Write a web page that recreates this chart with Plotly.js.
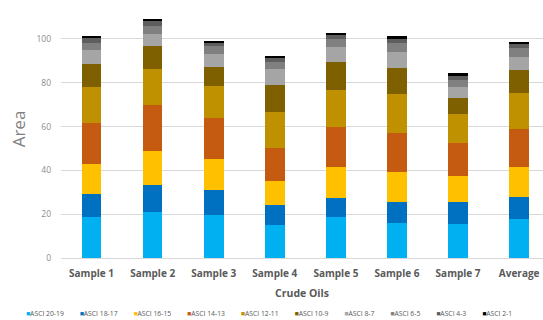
<!DOCTYPE html>
<html>
<head>
<meta charset="utf-8">
<script src="https://cdn.plot.ly/plotly-3.0.1.min.js"></script>
<style>html,body{margin:0;padding:0;background:#fff;}#chart{width:543px;height:320px;}</style>
</head>
<body>
<div id="chart"></div>
<script>
const categories = ["Sample 1", "Sample 2", "Sample 3", "Sample 4", "Sample 5", "Sample 6", "Sample 7", "Average"];
const seriesNames = ["ASCI 20-19", "ASCI 18-17", "ASCI 16-15", "ASCI 14-13", "ASCI 12-11", "ASCI 10-9", "ASCI 8-7", "ASCI 6-5", "ASCI 4-3", "ASCI 2-1"];
const asci20_19 = [18.5, 20.8, 19.8, 15.2, 18.5, 15.8, 15.3, 17.6];
const asci18_17 = [10.5, 12.7, 11.2, 9.1, 9.0, 9.9, 10.1, 10.4];
const asci16_15 = [14.1, 15.5, 14.3, 10.9, 14.1, 13.7, 12.2, 13.6];
const asci14_13 = [18.5, 21.0, 18.8, 15.0, 18.0, 17.5, 14.9, 17.4];
const asci12_11 = [16.5, 16.3, 14.6, 16.6, 16.9, 17.8, 13.4, 16.3];
const asci10_9 = [10.5, 10.3, 8.3, 12.2, 12.8, 11.9, 7.2, 10.4];
const asci8_7 = [6.2, 5.7, 6.2, 7.3, 6.9, 7.6, 4.8, 6.2];
const asci6_5 = [3.4, 3.7, 3.4, 3.3, 3.8, 3.8, 3.2, 4.0];
const asci4_3 = [2.1, 2.0, 1.6, 1.7, 1.8, 2.0, 2.0, 1.7];
const asci2_1 = [1.1, 1.1, 1.0, 1.1, 0.9, 1.4, 1.2, 1.0];
const yTicks = [0, 20, 40, 60, 80, 100];

const seriesValues = [asci20_19, asci18_17, asci16_15, asci14_13, asci12_11, asci10_9, asci8_7, asci6_5, asci4_3, asci2_1];
const colors = ["#00B0F0", "#0070C0", "#FFC000", "#C55A11", "#BF9000", "#7F6000", "#A5A5A5", "#808080", "#5E5E5E", "#000000"];

const traces = seriesNames.map((name, i) => ({
  type: "bar",
  name: name,
  x: categories,
  y: seriesValues[i],
  marker: {color: colors[i], line: {width: 0}},
  hoverinfo: "skip"
}));

const legendText = seriesNames.map((n, i) =>
  '<span style="color:' + colors[i] + '">\u25A0</span>' + n
).join('&nbsp;&nbsp;&nbsp;&nbsp;&nbsp;&nbsp;&nbsp;&nbsp;&nbsp;');

const layout = {
  width: 543,
  height: 320,
  margin: {l: 61, r: 0, t: 0, b: 62, pad: 0},
  paper_bgcolor: "#ffffff",
  plot_bgcolor: "#ffffff",
  barmode: "stack",
  bargap: 0.68,
  showlegend: false,
  font: {family: "Open Sans, sans-serif", color: "#595959"},
  xaxis: {
    type: "category",
    range: [-0.5, 7.39],
    showgrid: false,
    zeroline: false,
    showline: false,
    ticks: "",
    ticklabelstandoff: 8,
    tickfont: {family: "Open Sans, sans-serif", size: 10, color: "#595959", weight: "bold"},
    title: {text: "Crude Oils", standoff: 10, font: {family: "Open Sans, sans-serif", size: 10.5, color: "#595959", weight: "bold"}},
    automargin: false
  },
  yaxis: {
    range: [0, 117.8],
    tickvals: yTicks,
    ticktext: yTicks.map(String),
    showgrid: true,
    gridcolor: "#D9D9D9",
    gridwidth: 1,
    zeroline: true,
    zerolinecolor: "#D9D9D9",
    showline: false,
    ticks: "",
    ticklabelstandoff: 9,
    tickfont: {family: "Open Sans, sans-serif", size: 8.5, color: "#8C8C8C"},
    title: {text: "Area", standoff: 6, font: {family: "Open Sans, sans-serif", size: 17, color: "#7F7F7F"}},
    automargin: false
  },
  annotations: [{
    xref: "paper", yref: "paper",
    x: 0.4315, y: -0.2132,
    xanchor: "center", yanchor: "middle",
    showarrow: false,
    text: legendText,
    font: {family: "Open Sans, sans-serif", size: 6.8, color: "#595959"}
  }]
};

Plotly.newPlot("chart", traces, layout, {staticPlot: true, displayModeBar: false});
</script>
</body>
</html>
